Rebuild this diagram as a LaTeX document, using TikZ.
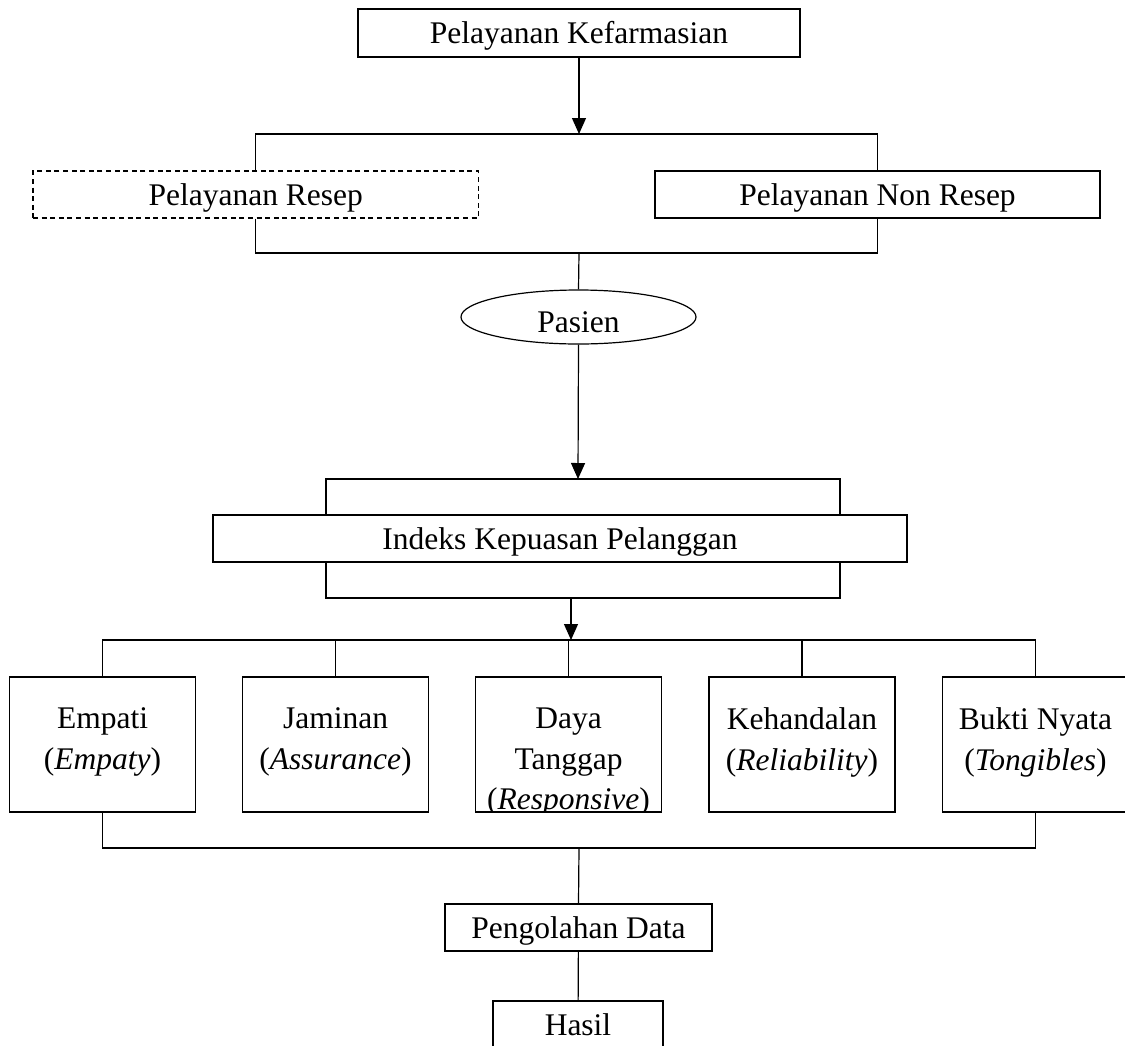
\documentclass[tikz,border=0pt]{standalone}
\usepackage{fontspec}
\setmainfont{Liberation Serif}
\usetikzlibrary{arrows.meta,shapes.geometric}

\begin{document}
\begin{tikzpicture}[x=0.5pt,y=-0.5pt,line width=0.6pt,>={Triangle[length=8pt,width=7pt]},
	every node/.style={font=\fontsize{15.75pt}{20.3pt}\selectfont}]
	\tikzset{kotak/.style={draw,inner sep=0pt,minimum height=23.5pt,text height=13pt,text depth=2.5pt},
		dimensi/.style={draw,inner sep=0pt,minimum width=93pt,minimum height=67.5pt},
		isi/.style={anchor=north,inner sep=0pt,align=center}}
	\useasboundingbox (0,0) rectangle (1125,1045);
	\node[kotak,line width=1.2pt,minimum width=221pt,minimum height=24pt] (kef) at (579,33) {Pelayanan Kefarmasian};
	\node[kotak,dash pattern=on 2.5pt off 1.8pt,minimum width=222.75pt] (resep) at (255.75,194.5) {Pelayanan Resep};
	\node[kotak,minimum width=222.5pt] (nonresep) at (877.5,194.5) {Pelayanan Non Resep};
	\node[draw,ellipse,inner sep=0pt,minimum width=117.5pt,minimum height=27pt,text height=17pt,text depth=2pt] (pasien) at (578.5,317) {Pasien};
	\node[kotak,minimum width=347pt] (ikp) at (560,538.5) {Indeks Kepuasan Pelanggan};
	\foreach \nama/\x/\teks in {empati/102.5/{Empati\\(\textit{Empaty})},
		jaminan/335.5/{Jaminan\\(\textit{Assurance})},
		daya/568.5/{Daya\\Tanggap\\(\textit{Responsive})},
		handal/802/{Kehandalan\\(\textit{Reliability})},
		bukti/1035.5/{Bukti Nyata\\(\textit{Tongibles})}}{
		\node[dimensi] (\nama) at (\x,744.5) {};
		\begin{scope}
			\clip (\nama.south west) rectangle (\nama.north east);
			\node[isi] (\nama-teks) at ([yshift=-15.5pt]\nama.north) {\teks};
		\end{scope}
	}
	\node[kotak,minimum width=133.5pt] (olah) at (578.5,927.5) {Pengolahan Data};
	\node[kotak,minimum width=85pt] (hasil) at (578,1024.5) {Hasil};
	\coordinate (brA) at (579,134);
	\coordinate (brB) at (579,253);
	\coordinate (brC) at (578,479);
	\coordinate (ikp-tl) at (326,479);
	\coordinate (ikp-tr) at (840,479);
	\coordinate (ikp-bl) at (326,598);
	\coordinate (ikp-br) at (840,598);
	\coordinate (brD) at (571,598);
	\coordinate (brE) at (571,640);
	\coordinate (brF) at (579,848);
	\draw[->] (kef.south) -- (brA);
	\draw (resep.north) |- (brA) -| (nonresep.north);
	\draw (resep.south) |- (brB) -| (nonresep.south);
	\draw (brB) -- (pasien.north);
	\draw[->] (pasien.south) -- (brC);
	\draw (ikp-tl |- ikp.north) -- (ikp-tl) -- (ikp-tr) -- (ikp-tr |- ikp.north);
	\draw (ikp-bl |- ikp.south) -- (ikp-bl) -- (ikp-br) -- (ikp-br |- ikp.south);
	\draw[->] (brD) -- (brE);
	\draw (empati.north) |- (brE) -| (bukti.north);
	\foreach \nama in {jaminan,daya,handal}
	\draw (\nama.north) -- (\nama.north |- brE);
	\draw (empati.south) |- (brF) -| (bukti.south);
	\draw (brF) -- (olah.north);
	\draw (olah) -- (hasil);
\end{tikzpicture}
\end{document}
